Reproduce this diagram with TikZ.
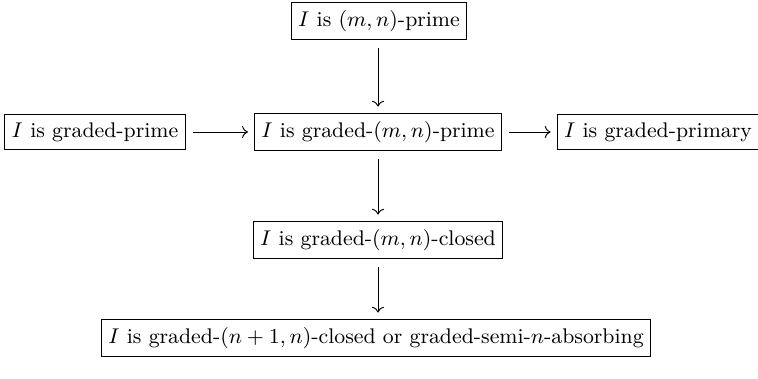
\documentclass[tikz,border=0pt]{standalone}
\usepackage{amsmath}
\usepackage{tikz}
\usetikzlibrary{arrows.meta,positioning}

\begin{document}
\begin{tikzpicture}[x=0.4219pt, y=-0.4219pt,
		implbox/.style={draw, line width=0.4pt, inner xsep=3pt, inner ysep=3.5pt,
			font=\fontsize{8.95}{11}\selectfont},
		impl/.style={->, shorten <=3pt, shorten >=2.5pt}]
		\useasboundingbox (0,0) rectangle (758,379);
		% 第一行
		\node[implbox] (prime) at (379,21) {$I$ is $(m,n)$-prime};
		% 第二行
		\node[implbox] (gmn) at (378,132) {$I$ is graded-$(m,n)$-prime};
		\node[implbox] (gprime) at (95,132) {$I$ is graded-prime};
		\node[implbox] (gprimary) at (658,132) {$I$ is graded-primary};
		% 第三、四行
		\node[implbox] (closed) at (378,240) {$I$ is graded-$(m,n)$-closed};
		\node[implbox] (semi) at (376,338) {$I$ is graded-$(n+1,n)$-closed or graded-semi-$n$-absorbing};
		% 箭头
		\draw[impl] (prime.south -| gmn) -- (gmn);
		\draw[impl] (gprime) -- (gmn);
		\draw[impl] (gmn) -- (gprimary);
		\draw[impl] (gmn) -- (closed);
		\draw[impl] (closed.south) -- (closed.south |- semi.north);
	\end{tikzpicture}
\end{document}
